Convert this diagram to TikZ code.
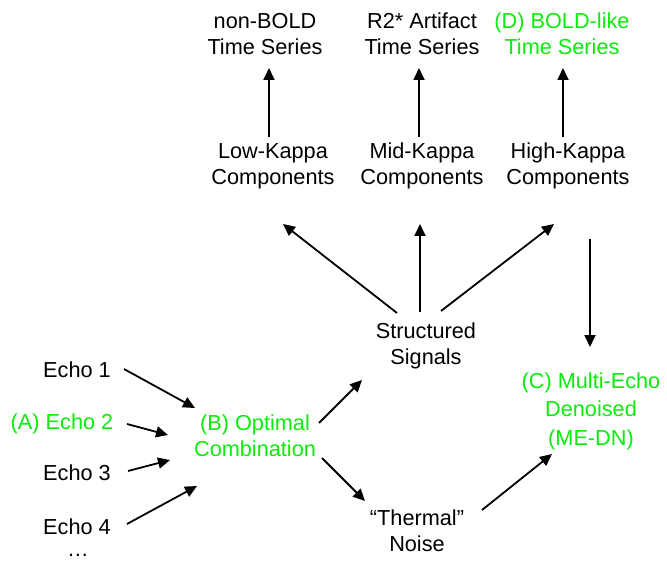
\documentclass[tikz,border=0pt]{standalone}
\usepackage{fontspec}
\setmainfont{Liberation Sans}
\usetikzlibrary{arrows.meta,calc}
\definecolor{hilite}{RGB}{10,236,10}
\tikzset{
  lbl/.style={align=center,inner sep=0pt,font=\fontsize{21.7}{26}\selectfont},
  hl/.style={lbl,text=hilite},
  arr/.style={line width=1.8pt,-{Triangle[length=12pt,width=11pt]}}
}
\begin{document}
\begin{tikzpicture}[x=1pt,y=-1pt]
\useasboundingbox (0,0) rectangle (667,564);
% output time series
\node[lbl] (nb) at (265,34) {non-BOLD\\Time Series};
\node[lbl] (r2) at (422,34) {R2* Artifact\\Time Series};
\node[hl]  (d)  at (562,34) {(D) BOLD-like\\Time Series};
% component classes
\node[lbl] (lk) at (273,166) {Low-Kappa\\Components};
\node[lbl] (mk) at (422,166) {Mid-Kappa\\Components};
\node[lbl] (hk) at (568,166) {High-Kappa\\Components};
% signal split
\node[lbl] (ss) at (426,346) {Structured\\Signals};
\node[hl,font=\fontsize{21.7}{28.5}\selectfont] (c) at (591,411) {(C) Multi-Echo\\Denoised\\(ME-DN)};
\node[lbl] (th) at (417,531) {“Thermal”\\Noise};
% echoes and combination
\node[lbl] (e1) at (77,370) {Echo 1};
\node[hl]  (e2) at (62,424) {(A) Echo 2};
\node[lbl] (e3) at (77,473) {Echo 3};
\node[lbl] (e4) at (77,527) {Echo 4};
\node[lbl] (dots) at (78,555) {…};
\node[hl]  (b)  at (255,436) {(B) Optimal\\Combination};
% connectors
\draw[arr] ($(lk.center)+(-4,-29)$) -- ($(nb.center)+(4,34)$);
\draw[arr] ($(mk.center)+(-3,-29)$) -- ($(r2.center)+(-3,34)$);
\draw[arr] ($(hk.center)+(-5,-29)$) -- ($(d.center)+(1,34)$);
\draw[arr] ($(ss.center)+(-29,-33)$) -- ($(lk.center)+(10,58)$);
\draw[arr] ($(ss.center)+(-6,-34)$) -- ($(mk.center)+(-2,58)$);
\draw[arr] ($(ss.center)+(15,-35)$) -- ($(hk.center)+(-14,58)$);
\draw[arr] ($(hk.center)+(22,73)$) -- ($(c.center)+(-1,-64)$);
\draw[arr] ($(e1.center)+(47,-1)$) -- ($(b.center)+(-60,-28)$);
\draw[arr] ($(e2.center)+(65,0)$) -- ($(b.center)+(-87,-1)$);
\draw[arr] ($(e3.center)+(51,-2)$) -- ($(b.center)+(-85,24)$);
\draw[arr] ($(e4.center)+(50,-3)$) -- ($(b.center)+(-58,50)$);
\draw[arr] ($(b.center)+(64,-13)$) -- ($(ss.center)+(-64,34)$);
\draw[arr] ($(b.center)+(67,22)$) -- ($(th.center)+(-52,-30)$);
\draw[arr] ($(th.center)+(65,-21)$) -- ($(c.center)+(-39,43)$);
\end{tikzpicture}
\end{document}
